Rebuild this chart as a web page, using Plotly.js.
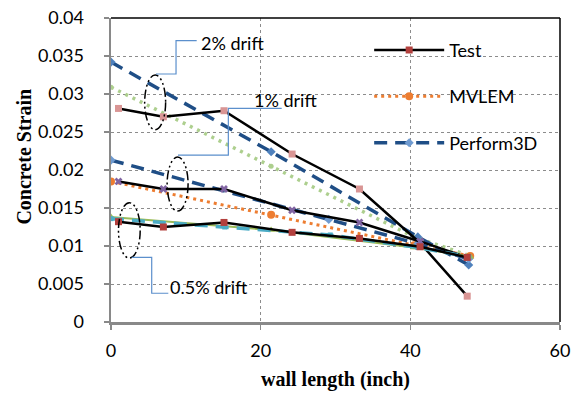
<!DOCTYPE html>
<html>
<head>
<meta charset="utf-8">
<script src="https://cdn.plot.ly/plotly-3.0.1.min.js"></script>
<style>html,body{margin:0;padding:0;background:#fff;}#chart{width:577px;height:394px;}</style>
</head>
<body>
<div id="chart"></div>
<script>
// Test data (wall length positions, inch)
const testX = [1, 7, 15.1, 24.2, 33.2, 41.3, 47.6];
const test2Y = [0.0281, 0.0270, 0.0278, 0.0221, 0.0175, 0.0104, 0.0034];
const test1Y = [0.0185, 0.0175, 0.0175, 0.0147, 0.0131, 0.0106, 0.0085];
const test05Y = [0.0132, 0.0125, 0.0131, 0.0118, 0.0110, 0.0099, 0.0085];

// MVLEM model
const mvX = [0, 21.4, 40.5, 48];
const mv2Y = [0.0309, 0.0205, 0.0112, 0.0087];
const mv1Y = [0.0185, 0.0141, 0.0101, 0.0087];
const mv05Y = [0.0138, 0.0121, 0.0098, 0.0086];

// Perform3D model
const p3d2X = [0, 21.4, 41, 47.8];
const p3d2Y = [0.0342, 0.0224, 0.0112, 0.0075];
const p3d1X = [0, 29.1, 41, 47.8];
const p3d1Y = [0.0213, 0.0135, 0.0103, 0.0083];
const p3d05X = [0, 15.2, 29.3, 41, 47.8];
const p3d05Y = [0.0136, 0.0125, 0.01145, 0.0098, 0.0086];

const seriesNames = ['Test', 'MVLEM', 'Perform3D'];
const driftLabels = ['2% drift', '1% drift', '0.5% drift'];
const xTicks = [0, 20, 40, 60];

const FONT = 'Lato, "Open Sans", sans-serif';
const SERIF = '"Liberation Serif", "Times New Roman", serif';

function tr(x, y, o) {
  return Object.assign({x: x, y: y, type: 'scatter', mode: 'lines+markers', showlegend: false, hoverinfo: 'skip'}, o);
}

const traces = [
  tr(mvX, mv2Y, {line: {color: '#ADCF8E', width: 3.5, dash: '3px,5px'}, marker: {symbol: 'circle', size: 5, color: '#ADCF8E'}}),
  tr(p3d2X, p3d2Y, {line: {color: '#1F4E86', width: 3.5, dash: '13px,8px'}, marker: {symbol: 'diamond', size: 7, color: '#4F81BD'}}),
  tr(testX, test2Y, {line: {color: '#000', width: 2.5}, marker: {symbol: 'square', size: 7, color: '#D99594'}}),
  tr(mvX, mv1Y, {name: seriesNames[1], showlegend: true, legendrank: 2, legendgroup: 'b',
    line: {color: '#ED7D31', width: 3, dash: '3px,4px'}, marker: {symbol: 'circle', size: 8, color: '#ED7D31'}}),
  tr(p3d1X, p3d1Y, {name: seriesNames[2], showlegend: true, legendrank: 3, legendgroup: 'c',
    line: {color: '#1F4E86', width: 3.5, dash: '13px,8px'}, marker: {symbol: 'diamond', size: 7, color: '#6F9BD1'}}),
  tr(testX, test1Y, {line: {color: '#000', width: 2.5}, marker: {symbol: 'x', size: 7, color: '#8064A2'}}),
  tr(mvX, mv05Y, {line: {color: '#9BBB59', width: 2}, marker: {symbol: 'triangle-up', size: 7, color: '#9BBB59'}}),
  tr(p3d05X, p3d05Y, {line: {color: '#4BACC6', width: 3.5, dash: '13px,8px'}, marker: {symbol: 'square', size: 5, color: '#4BACC6'}}),
  tr(testX, test05Y, {name: seriesNames[0], showlegend: true, legendrank: 1, legendgroup: 'a',
    line: {color: '#000', width: 2.5}, marker: {symbol: 'square', size: 7, color: '#B3403D'}})
];

const calloutColor = '#5B8FCC';
const ellipseDash = '9px,3px,2px,3px,2px,3px';

const layout = {
  width: 577, height: 394,
  margin: {l: 111, r: 17, t: 18, b: 72},
  paper_bgcolor: '#fff', plot_bgcolor: '#fff',
  font: {family: FONT, size: 18, color: '#000'},
  xaxis: {
    range: [0, 60], tickvals: xTicks, ticktext: xTicks.map(String),
    showline: true, linecolor: '#898989', linewidth: 2.5,
    ticks: 'outside', ticklen: 5, tickcolor: '#898989', tickwidth: 1.5,
    showgrid: true, gridcolor: '#8C8C8C', griddash: 'dot', gridwidth: 1,
    zeroline: false, tickfont: {family: FONT, size: 18}, ticklabelstandoff: 6,
    title: {text: 'wall length (inch)', font: {family: SERIF, size: 20, weight: 'bold'}, standoff: 12}
  },
  yaxis: {
    range: [0, 0.04], dtick: 0.005, tick0: 0,
    showline: true, linecolor: '#898989', linewidth: 2.5,
    ticks: 'outside', ticklen: 5, tickcolor: '#898989', tickwidth: 1.5,
    showgrid: true, gridcolor: '#8C8C8C', griddash: 'dot', gridwidth: 1,
    zeroline: false, tickfont: {family: FONT, size: 18}, ticklabelstandoff: 16
  },
  legend: {
    x: 0.575, y: 0.955, xanchor: 'left', yanchor: 'top',
    bgcolor: 'rgba(0,0,0,0)', font: {family: FONT, size: 18},
    itemwidth: 70, traceorder: 'grouped', tracegroupgap: 20, itemclick: false
  },
  shapes: [
    {type: 'line', xref: 'paper', yref: 'paper', x0: 0, x1: 1, y0: 1, y1: 1, line: {color: '#000', width: 1.5}},
    {type: 'line', xref: 'paper', yref: 'paper', x0: 1, x1: 1, y0: 0, y1: 1, line: {color: '#000', width: 1.5}},
    // ellipses
    {type: 'circle', xref: 'x', yref: 'y', x0: 4.5, x1: 7.3, y0: 0.0253, y1: 0.0325, line: {color: '#000', width: 1.5, dash: ellipseDash}},
    {type: 'circle', xref: 'x', yref: 'y', x0: 7.5, x1: 10.3, y0: 0.0146, y1: 0.0217, line: {color: '#000', width: 1.5, dash: ellipseDash}},
    {type: 'circle', xref: 'x', yref: 'y', x0: 1.0, x1: 3.9, y0: 0.0084, y1: 0.0157, line: {color: '#000', width: 1.5, dash: ellipseDash}},
    // callouts
    {type: 'path', xref: 'x', yref: 'y', path: 'M11.45,0.03701 L8.69,0.03701 L8.69,0.03263 L6.01,0.03263', line: {color: calloutColor, width: 1.2}},
    {type: 'path', xref: 'x', yref: 'y', path: 'M22.81,0.02812 L15.68,0.02812 L15.68,0.02197 L8.95,0.02197', line: {color: calloutColor, width: 1.2}},
    {type: 'path', xref: 'x', yref: 'y', path: 'M7.66,0.00378 L5.44,0.00378 L5.44,0.00851 L2.77,0.00851', line: {color: calloutColor, width: 1.2}}
  ],
  annotations: [
    {text: driftLabels[0], xref: 'paper', yref: 'paper', x: 0.196, y: 0.9188, xanchor: 'left', yanchor: 'middle', showarrow: false, font: {family: FONT, size: 18}},
    {text: driftLabels[1], xref: 'paper', yref: 'paper', x: 0.3134, y: 0.7303, xanchor: 'left', yanchor: 'middle', showarrow: false, font: {family: FONT, size: 18}},
    {text: driftLabels[2], xref: 'paper', yref: 'paper', x: 0.1276, y: 0.1161, xanchor: 'left', yanchor: 'middle', showarrow: false, font: {family: FONT, size: 18}},
    {text: 'Concrete Strain', xref: 'paper', yref: 'paper', x: -0.1938, y: 0.544, xanchor: 'center', yanchor: 'middle', textangle: -90, showarrow: false,
     font: {family: SERIF, size: 20, weight: 'bold'}}
  ]
};

Plotly.newPlot('chart', traces, layout, {staticPlot: true, displayModeBar: false});
</script>
</body>
</html>
